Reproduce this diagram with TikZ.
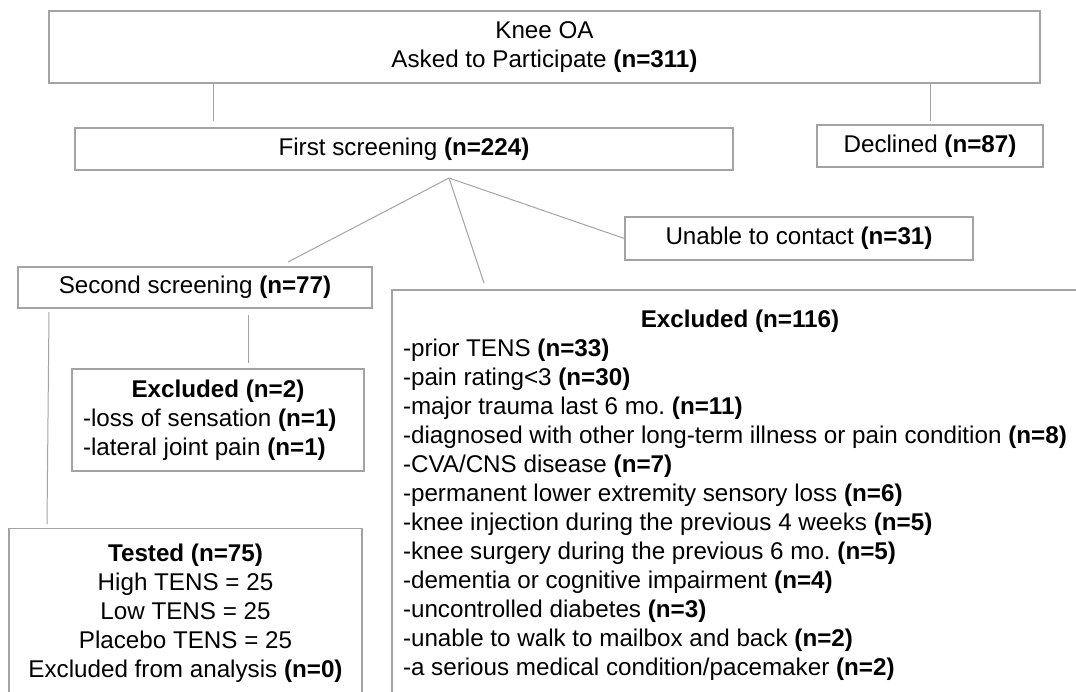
\documentclass[tikz,border=0pt]{standalone}
\usepackage{fontspec}
\setmainfont{Liberation Sans}
\usepackage{xcolor}
\definecolor{linegray}{HTML}{A3A3A3}
\frenchspacing
\begin{document}
\begin{tikzpicture}[x=0.5pt,y=-0.5pt,inner sep=0pt,
  font=\fontsize{12.1}{14.5}\selectfont,
  box/.style={draw=linegray,line width=0.6pt,rectangle,align=center},
  link/.style={draw=linegray,line width=0.5pt}]
\useasboundingbox (0,0) rectangle (1076,691);
\clip (0,0) rectangle (1076,691);
\node[box,minimum width=495.5pt,minimum height=36pt] (knee) at (544.5,47) {Knee OA\\Asked to Participate \textbf{(n=311)}};
\node[box,minimum width=329pt,minimum height=21pt] (first) at (404,149) {First screening \textbf{(n=224)}};
\node[box,minimum width=113pt,minimum height=21pt] (declined) at (930,146) {Declined \textbf{(n=87)}};
\node[box,minimum width=174pt,minimum height=21.5pt] (unable) at (799,238.5) {Unable to contact \textbf{(n=31)}};
\node[box,minimum width=177pt,minimum height=20.5pt] (second) at (195,287.5) {Second screening \textbf{(n=77)}};
\node[box,align=none,text width=135pt,minimum width=146pt,minimum height=51pt] (excl2) at (218,420)
  {{\centering\textbf{Excluded (n=2)}\par}\raggedright
  -loss of sensation \textbf{(n=1)}\\
  -lateral joint pain \textbf{(n=1)}};
\node[box,minimum width=176.5pt,minimum height=85pt] (tested) at (185.5,613.5)
  {\textbf{Tested (n=75)}\\High TENS = 25\\Low TENS = 25\\Placebo TENS = 25\\Excluded from analysis \textbf{(n=0)}};
\node[box,align=none,text width=337pt,minimum width=348pt,minimum height=205pt] (excl116) at (740,495)
  {{\centering\textbf{Excluded (n=116)}\par}\raggedright
  -prior TENS \textbf{(n=33)}\\
  -pain rating<3 \textbf{(n=30)}\\
  -major trauma last 6 mo. \textbf{(n=11)}\\
  -diagnosed with other long-term illness or pain condition \textbf{(n=8)}\\
  -CVA/CNS disease \textbf{(n=7)}\\
  -permanent lower extremity sensory loss \textbf{(n=6)}\\
  -knee injection during the previous 4 weeks \textbf{(n=5)}\\
  -knee surgery during the previous 6 mo. \textbf{(n=5)}\\
  -dementia or cognitive impairment \textbf{(n=4)}\\
  -uncontrolled diabetes \textbf{(n=3)}\\
  -unable to walk to mailbox and back \textbf{(n=2)}\\
  -a serious medical condition/pacemaker \textbf{(n=2)}};
\coordinate (k1) at (213,121);
\coordinate (k2) at (930,121);
\coordinate (fork) at (449,178);
\coordinate (f1) at (288,262);
\coordinate (f2) at (484,283);
\coordinate (s1) at (49,312);
\coordinate (s1e) at (47,524);
\coordinate (s2) at (248,315);
\coordinate (s2e) at (248,363);
\draw[link] (knee.south -| k1) -- (k1);
\draw[link] (knee.south -| k2) -- (k2);
\draw[link] (fork) -- (f1);
\draw[link] (fork) -- (f2);
\draw[link] (fork) -- (unable.west);
\draw[link] (s1) -- (s1e);
\draw[link] (s2) -- (s2e);
\end{tikzpicture}
\end{document}
